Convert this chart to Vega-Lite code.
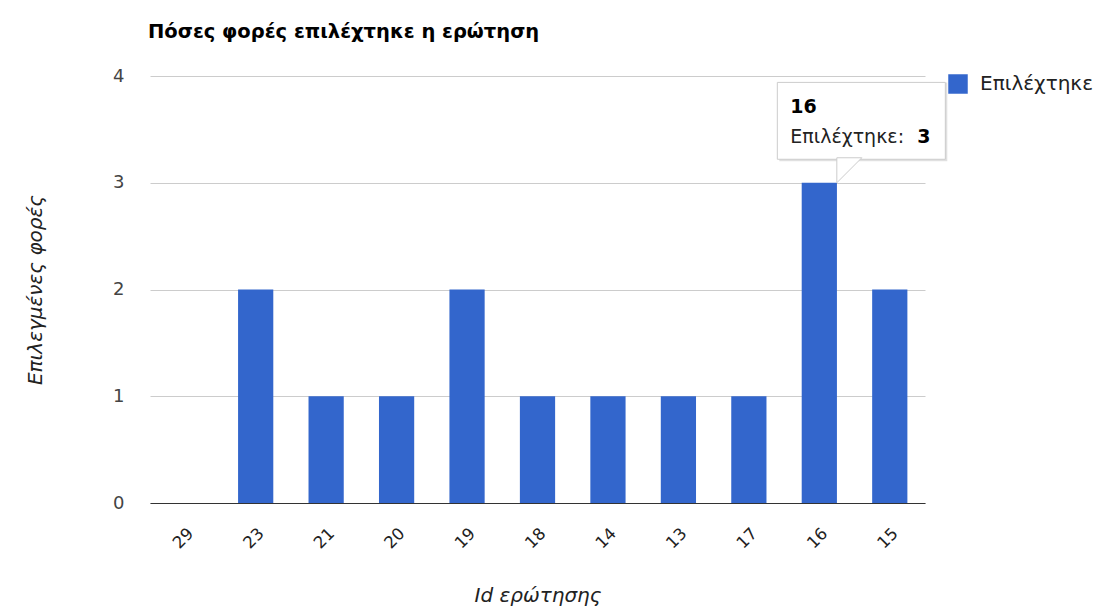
{
  "$schema": "https://vega.github.io/schema/vega-lite/v6.json",
  "width": 775,
  "height": 427,
  "autosize": "none",
  "padding": {"left": 150, "top": 76, "right": 171, "bottom": 103},
  "background": "white",
  "title": {
    "text": "Πόσες φορές επιλέχτηκε η ερώτηση",
    "anchor": "start",
    "frame": "group",
    "font": "DejaVu Sans",
    "fontSize": 19.5,
    "fontWeight": "bold",
    "color": "#000000",
    "offset": 25,
    "dx": -2
  },
  "config": {
    "view": {"stroke": null},
    "font": "DejaVu Sans"
  },
  "layer": [
    {
      "data": {
        "values": [
          {"id": "29", "count": 0, "series": "Επιλέχτηκε"},
          {"id": "23", "count": 2, "series": "Επιλέχτηκε"},
          {"id": "21", "count": 1, "series": "Επιλέχτηκε"},
          {"id": "20", "count": 1, "series": "Επιλέχτηκε"},
          {"id": "19", "count": 2, "series": "Επιλέχτηκε"},
          {"id": "18", "count": 1, "series": "Επιλέχτηκε"},
          {"id": "14", "count": 1, "series": "Επιλέχτηκε"},
          {"id": "13", "count": 1, "series": "Επιλέχτηκε"},
          {"id": "17", "count": 1, "series": "Επιλέχτηκε"},
          {"id": "16", "count": 3, "series": "Επιλέχτηκε"},
          {"id": "15", "count": 2, "series": "Επιλέχτηκε"}
        ]
      },
      "mark": {"type": "bar"},
      "encoding": {
        "x": {
          "field": "id",
          "type": "nominal",
          "sort": null,
          "scale": {"paddingInner": 0.5, "paddingOuter": 0.25},
          "axis": {
            "title": "Id ερώτησης",
            "titleFont": "DejaVu Sans",
            "titleFontStyle": "italic",
            "titleFontWeight": "normal",
            "titleFontSize": 20,
            "titleColor": "#222222",
            "titleX": 387.5,
            "titleY": 92,
            "titleBaseline": "middle",
            "titleAlign": "center",
            "labelAngle": -45,
            "labelFont": "DejaVu Sans",
            "labelFontSize": 16.5,
            "labelColor": "#222222",
            "labelPadding": 22,
            "ticks": false,
            "domain": true,
            "domainColor": "#333333",
            "domainWidth": 1
          }
        },
        "y": {
          "field": "count",
          "type": "quantitative",
          "scale": {"domain": [0, 4], "nice": false},
          "axis": {
            "title": "Επιλεγμένες φορές",
            "titleFont": "DejaVu Sans",
            "titleFontStyle": "italic",
            "titleFontWeight": "normal",
            "titleFontSize": 20,
            "titleColor": "#222222",
            "titleAngle": -90,
            "titleX": -115,
            "titleY": 213.5,
            "titleBaseline": "middle",
            "titleAlign": "center",
            "values": [0, 1, 2, 3, 4],
            "format": "d",
            "labelFont": "DejaVu Sans",
            "labelFontSize": 18,
            "labelColor": "#444444",
            "labelPadding": 26,
            "ticks": false,
            "domain": false,
            "grid": true,
            "gridColor": "#cccccc"
          }
        },
        "color": {
          "field": "series",
          "type": "nominal",
          "scale": {"range": ["#3366cc"]},
          "legend": {
            "title": null,
            "orient": "none",
            "legendX": 798,
            "legendY": -2,
            "symbolType": "square",
            "symbolSize": 380,
            "symbolStrokeWidth": 0,
            "labelOffset": 12,
            "labelFontSize": 20,
            "labelColor": "#222222",
            "labelFont": "DejaVu Sans"
          }
        }
      }
    },
    {
      "data": {"values": [{"id": "16", "count": 3, "head": "16", "label": "Επιλέχτηκε:", "val": "3"}]},
      "layer": [
        {
          "mark": {"type": "bar", "width": 168, "xOffset": 44, "yOffset": 2, "color": "#000000", "opacity": 0.12},
          "encoding": {
            "x": {"field": "id", "type": "nominal", "sort": null},
            "y": {"datum": 3.22},
            "y2": {"datum": 3.94}
          }
        },
        {
          "mark": {"type": "bar", "width": 168, "xOffset": 42, "fill": "#ffffff", "stroke": "#cccccc", "strokeWidth": 1},
          "encoding": {
            "x": {"field": "id", "type": "nominal", "sort": null},
            "y": {"datum": 3.22},
            "y2": {"datum": 3.94}
          }
        },
        {
          "mark": {"type": "point", "shape": "M -1 -1 L 1 -1 L -1 1 Z", "size": 625, "filled": true, "fill": "#ffffff", "stroke": "#cccccc", "strokeWidth": 1, "opacity": 1, "xOffset": 30, "yOffset": -12.5},
          "encoding": {
            "x": {"field": "id", "type": "nominal", "sort": null},
            "y": {"field": "count", "type": "quantitative"}
          }
        },
        {
          "mark": {"type": "text", "align": "left", "baseline": "middle", "fontWeight": "bold", "fontSize": 19, "font": "DejaVu Sans", "color": "#000000", "dx": -29, "dy": -76},
          "encoding": {
            "x": {"field": "id", "type": "nominal", "sort": null},
            "y": {"field": "count", "type": "quantitative"},
            "text": {"field": "head"}
          }
        },
        {
          "mark": {"type": "text", "align": "left", "baseline": "middle", "fontSize": 19, "font": "DejaVu Sans", "color": "#222222", "dx": -29, "dy": -46},
          "encoding": {
            "x": {"field": "id", "type": "nominal", "sort": null},
            "y": {"field": "count", "type": "quantitative"},
            "text": {"field": "label"}
          }
        },
        {
          "mark": {"type": "text", "align": "left", "baseline": "middle", "fontSize": 19, "font": "DejaVu Sans", "fontWeight": "bold", "color": "#000000", "dx": 98, "dy": -46},
          "encoding": {
            "x": {"field": "id", "type": "nominal", "sort": null},
            "y": {"field": "count", "type": "quantitative"},
            "text": {"field": "val"}
          }
        }
      ]
    }
  ]
}
